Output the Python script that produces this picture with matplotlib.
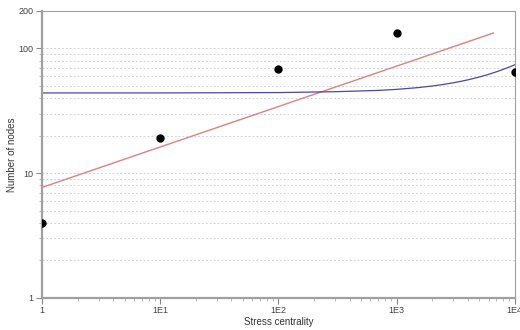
import matplotlib
matplotlib.use("Agg")
import matplotlib.pyplot as plt
from matplotlib.ticker import FixedLocator, FixedFormatter, NullFormatter

# Data
obs_x = [1, 10, 100, 1000, 10000]
obs_y = [4.0, 19.0, 68.0, 133.0, 65.0]

power_fit_x = [1, 6600]
power_fit_y = [7.7, 133.0]

lin_fit_x = [1, 10, 100, 300, 700, 1000, 1500, 2000, 2500, 3000, 3500, 4000,
             5000, 6000, 7000, 8000, 9000, 10000]
lin_fit_y = [44.0, 44.0, 44.3, 45.0, 46.1, 47.0, 48.5, 50.0, 51.5, 53.0, 54.5, 56.0,
             59.0, 62.0, 65.0, 68.0, 71.0, 74.0]

x_ticks = [1, 10, 100, 1000, 10000]
x_labels = ["1", "1E1", "1E2", "1E3", "1E4"]
y_ticks = [1, 10, 100, 200]
y_labels = ["1", "10", "100", "200"]

plt.rcParams['font.family'] = ['Liberation Sans', 'DejaVu Sans']

fig = plt.figure(figsize=(5.2, 3.3), dpi=100)
ax = fig.add_axes([0.081, 0.097, 0.909, 0.870])
ax.set_xscale('log')
ax.set_yscale('log')
ax.set_xlim(1, 10000)
ax.set_ylim(1, 200)

# Grid lines (horizontal, major + minor)
minor_y = [m * 10**d for d in range(0, 3) for m in range(2, 10) if m * 10**d < 200]
for yv in [10, 100] + minor_y:
    ax.axhline(yv, color='#d4d4d4', lw=0.7, ls=(0, (2, 2)), zorder=0)

ax.plot(power_fit_x, power_fit_y, color='#e08080', lw=1.0, zorder=2)
ax.plot(lin_fit_x, lin_fit_y, color='#4848a8', lw=0.9, zorder=2)
ax.plot(obs_x, obs_y, 'o', color='black', ms=5, zorder=3)

ax.xaxis.set_major_locator(FixedLocator(x_ticks))
ax.xaxis.set_major_formatter(FixedFormatter(x_labels))
ax.xaxis.set_minor_locator(FixedLocator([m * 10**d for d in range(0, 4) for m in range(2, 10)]))
ax.xaxis.set_minor_formatter(NullFormatter())
ax.yaxis.set_major_locator(FixedLocator(y_ticks))
ax.yaxis.set_major_formatter(FixedFormatter(y_labels))
ax.yaxis.set_minor_locator(FixedLocator(minor_y))
ax.yaxis.set_minor_formatter(NullFormatter())

ax.tick_params(which='major', length=4, width=0.8, color='#888888', labelsize=6.5, labelcolor='#444444', pad=2)
ax.tick_params(which='minor', length=2.5, width=0.6, color='#aaaaaa')

for s in ['left', 'bottom']:
    ax.spines[s].set_color('#a0a0a0')
    ax.spines[s].set_linewidth(1.6)
for s in ['top', 'right']:
    ax.spines[s].set_color('#a0a0a0')
    ax.spines[s].set_linewidth(0.8)

ax.set_xlabel('Stress centrality', fontsize=7, color='#333333', labelpad=1)
ax.set_ylabel('Number of nodes', fontsize=7, color='#333333', labelpad=1)

fig.savefig('out.png', dpi=100)
